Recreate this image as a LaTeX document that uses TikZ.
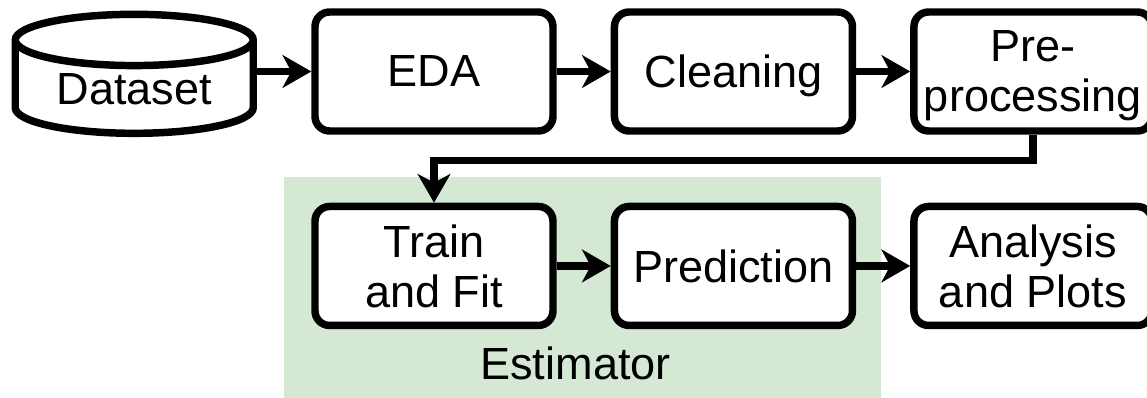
\documentclass[tikz,border=0pt]{standalone}
\usepackage{fontspec}
\setmainfont{Liberation Sans}
\usetikzlibrary{positioning,arrows.meta,shapes.geometric}
\definecolor{estclr}{HTML}{D5E8D4}
\tikzset{ %
  ,>={Stealth[length=21.5pt,width=24.5pt,inset=6.5pt]}
  ,every node/.style={font=\fontsize{33.8}{37.5}\selectfont}
  ,every path/.style={line width=5.6pt}
  ,flow/.style={draw, rounded corners=11pt, fill=white, align=center, text depth=0pt, minimum width=178.5pt, minimum height=89.25pt, inner sep=0, node distance=40.5pt}
  ,data/.style={draw, cylinder, shape border rotate=90, aspect=0.33, fill=white, inner sep=0, text height=25pt, minimum width=178.5pt, minimum height=89.25pt}
  ,group/.style={fill=estclr, inner sep=0, minimum width=447.75pt, minimum height=165.75pt}
  ,grouplabel/.style={inner sep=0}
}
\begin{document}
\begin{tikzpicture}[x=0.75pt,y=-0.75pt]
      \useasboundingbox (0,0) rectangle (1147,398);
      \node[group] (estimator) at (582.5,287.5) {};
      \node[grouplabel] (estimatorlabel) at (575.5,363) {Estimator};
      \node[data] (dataset) at (134.25,88.5) {Dataset};
      \node[flow] (eda) at (434,71.5) {EDA};
      \node[flow, right=of eda] (cleaning) {Cleaning};
      \node[flow, right=of cleaning] (preproc) {Pre-\\processing};
      \node[flow, below=51pt of eda] (train) {Train\\and Fit};
      \node[flow, right=of train] (prediction) {Prediction};
      \node[flow, right=of prediction] (analysis) {Analysis\\and Plots};
      \draw [->] (dataset.east |- eda) -- (eda);
      \draw [->] (eda) -- (cleaning);
      \draw [->] (cleaning) -- (preproc);
      \draw [->] (preproc.south) |- ++(0,26) -| (train.north);
      \draw [->] (train) -- (prediction);
      \draw [->] (prediction) -- (analysis);
    \end{tikzpicture}
\end{document}
